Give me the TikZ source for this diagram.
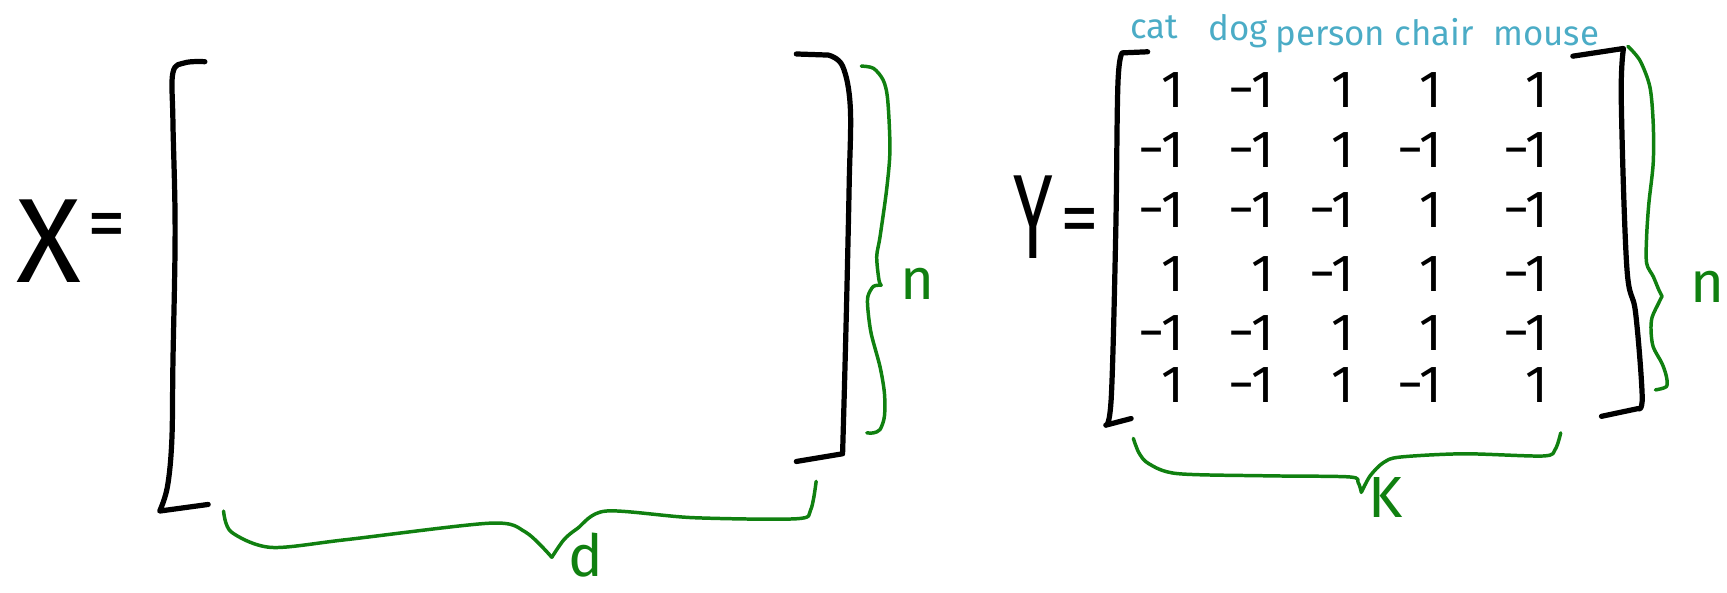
\documentclass[tikz,border=0pt]{standalone}
\usepackage{fontspec}
\setsansfont{Fira Sans}
\usepackage{tikz}
\definecolor{pengreen}{RGB}{16,128,16}
\definecolor{penblue}{RGB}{75,172,198}

\begin{document}
\begin{tikzpicture}[
  x=0.02cm,y=-0.02cm,
  every node/.style={font=\sffamily,inner sep=0pt},
  bracket/.style={draw=black,line width=2.7pt,line cap=round,line join=round},
  brace/.style={draw=pengreen,line width=1.8pt,line cap=round,line join=round},
  entry/.style={anchor=east,font=\sffamily\fontsize{27}{27}\selectfont},
  classlbl/.style={anchor=base,text=penblue,font=\sffamily\fontsize{18}{18}\selectfont},
  dimlbl/.style={text=pengreen,font=\sffamily\fontsize{30}{30}\selectfont},
  bigletter/.style={font=\sffamily\fontsize{62}{62}\selectfont},
  equals/.style={font=\sffamily\fontsize{40}{40}\selectfont}
]
\useasboundingbox (0,0) rectangle (1568,538);

% X = [ ... ]
\node[bigletter] (xname) at (44,219) {X};
\node[equals]    (xeq)   at (97,210) {=};

\draw[bracket] plot[smooth,tension=0.6] coordinates {(186,56) (168,57) (157,66)
  (157,110) (159,209) (157,330) (156,400) (152,442) (145,464)} -- (189,458);
\draw[bracket] (723,49) -- plot[smooth,tension=0.6] coordinates {(752,50) (765,60)
  (772,97) (771,167) (769,260) (767,340) (765,412)} -- (723,419);

\draw[brace] plot[smooth] coordinates {(782,60) (793,62) (802,73) (806,91) (808,136)
  (805,172) (799,215) (796,233) (798,254) (800,259)};
\draw[brace] plot[smooth] coordinates {(800,259) (793,260) (788,269) (788,281)
  (791,303) (799,333) (803,357) (803,378) (799,390) (793,393) (787,393)};
\node[dimlbl] (xrows) at (833,258) {n};

\draw[brace] plot[smooth] coordinates {(203,464) (210,483) (246,497) (314,490)
  (445,475) (477,483) (501,506)};
\draw[brace] plot[smooth] coordinates {(501,506) (512,490) (524,480) (550,464)
  (629,470) (723,471) (736,463) (741,437)};
\node[dimlbl] (xcols) at (532,504) {d};

% Y = [ ... ]
\node[bigletter] (yname) at (938,197) {\scalebox{0.6}[1]{Y}};
\node[equals]    (yeq)   at (980,206) {=};

\node[classlbl] (cls-cat)    at (1048,35) {cat};
\node[classlbl] (cls-dog)    at (1124,37) {dog};
\node[classlbl] (cls-person) at (1208,41) {person};
\node[classlbl] (cls-chair)  at (1302,41) {chair};
\node[classlbl] (cls-mouse)  at (1404,41) {mouse};

\draw[bracket] (1042,47) -- plot[smooth,tension=0.6] coordinates {(1019,48)
  (1015,76) (1013,212) (1009,360) (1004,386)} -- (1027,380);
\draw[bracket] (1428,51) -- plot[smooth,tension=0.6] coordinates {(1474,44)
  (1472,91) (1477,242) (1485,284) (1491,360) (1487,371)} -- (1454,378);

\foreach \r/\y/\vals in {1/82/{1,−1,1,1,1},
                         2/136/{−1,−1,1,−1,−1},
                         3/191/{−1,−1,−1,1,−1},
                         4/249/{1,1,−1,1,−1},
                         5/302/{−1,−1,1,1,−1},
                         6/350/{1,−1,1,−1,1}} {
  \foreach \v [count=\c] in \vals {
    \pgfmathsetmacro\cx{{1075,1157,1230,1310,1406}[\c-1]}
    \node[entry] (y-\r-\c) at (\cx,\y) {\v};
  }
}

\draw[brace] plot[smooth] coordinates {(1478,42) (1489,55) (1498,79) (1501,112)
  (1501,148) (1497,185) (1495,215) (1495,239) (1501,251) (1506,263) (1509,269)};
\draw[brace] plot[smooth] coordinates {(1509,269) (1506,275) (1500,288) (1499,300)
  (1501,315) (1509,330) (1513,342) (1513,351) (1503,354)};
\node[dimlbl] (yrows) at (1550,260) {n};

\draw[brace] plot[smooth] coordinates {(1029,398) (1034,411) (1043,421) (1069,430)
  (1150,432) (1225,433) (1233,438) (1236,447)};
\draw[brace] plot[smooth] coordinates {(1236,447) (1244,432) (1256,420) (1271,415)
  (1329,412) (1401,414) (1412,408) (1417,393)};
\node[dimlbl] (ycols) at (1258,452) {K};

\end{tikzpicture}
\end{document}
